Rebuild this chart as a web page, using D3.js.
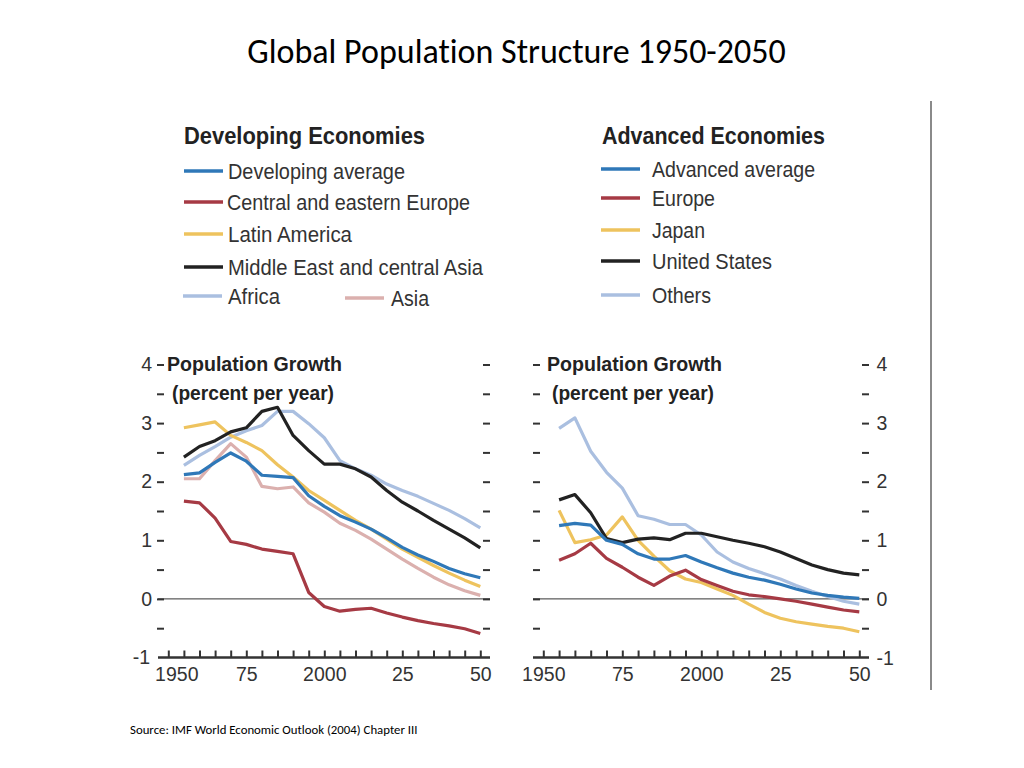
<!DOCTYPE html>
<html>
<head>
<meta charset="utf-8">
<script src="https://cdn.jsdelivr.net/npm/d3@7"></script>
<style>
  html, body { margin: 0; padding: 0; background: #fff; }
  svg { display: block; }
  .cond { font-family: "Liberation Sans", Arial, sans-serif; }
</style>
</head>
<body>
<svg id="chart" width="1024" height="768"></svg>
<script>
// ---------- DATA ----------
const years = [1955,1960,1965,1970,1975,1980,1985,1990,1995,2000,2005,2010,2015,2020,2025,2030,2035,2040,2045,2050];

const devAverage  = [2.12,2.15,2.33,2.49,2.35,2.11,2.09,2.07,1.76,1.58,1.42,1.31,1.19,1.04,0.88,0.75,0.64,0.52,0.43,0.36];
const devCEE      = [1.67,1.64,1.38,0.98,0.93,0.85,0.81,0.77,0.11,-0.13,-0.21,-0.18,-0.16,-0.24,-0.31,-0.37,-0.42,-0.46,-0.51,-0.59];
const devLatAm    = [2.92,2.97,3.02,2.79,2.67,2.53,2.29,2.08,1.85,1.68,1.51,1.34,1.19,1.02,0.85,0.71,0.57,0.44,0.32,0.21];
const devMECA     = [2.42,2.60,2.70,2.85,2.92,3.20,3.27,2.79,2.53,2.30,2.30,2.22,2.08,1.85,1.65,1.50,1.34,1.19,1.04,0.87];
const devAfrica   = [2.28,2.45,2.60,2.76,2.87,2.96,3.20,3.20,2.99,2.75,2.36,2.22,2.11,1.96,1.85,1.75,1.63,1.51,1.37,1.21];
const devAsia     = [2.05,2.05,2.36,2.65,2.42,1.92,1.88,1.91,1.64,1.48,1.29,1.17,1.02,0.85,0.68,0.52,0.37,0.24,0.14,0.06];

const advAverage  = [1.25,1.29,1.26,1.00,0.93,0.77,0.68,0.68,0.74,0.63,0.53,0.44,0.37,0.32,0.25,0.17,0.10,0.06,0.03,0.01];
const advEurope   = [0.66,0.77,0.95,0.69,0.54,0.37,0.23,0.39,0.49,0.33,0.23,0.13,0.07,0.04,0.00,-0.04,-0.09,-0.14,-0.19,-0.22];
const advJapan    = [1.51,0.96,1.01,1.09,1.40,1.00,0.73,0.48,0.34,0.28,0.17,0.06,-0.09,-0.23,-0.33,-0.39,-0.43,-0.47,-0.50,-0.56];
const advUS       = [1.69,1.78,1.47,1.03,0.96,1.02,1.04,1.01,1.12,1.12,1.06,1.00,0.95,0.89,0.80,0.69,0.58,0.50,0.44,0.41];
const advOthers   = [2.91,3.09,2.52,2.16,1.89,1.42,1.36,1.27,1.27,1.09,0.80,0.63,0.52,0.43,0.34,0.23,0.13,0.04,-0.04,-0.09];

const devNames = ["Developing average","Central and eastern Europe","Latin America","Middle East and central Asia","Africa","Asia"];
const advNames = ["Advanced average","Europe","Japan","United States","Others"];

const xTickYears = [1950,1955,1960,1965,1970,1975,1980,1985,1990,1995,2000,2005,2010,2015,2020,2025,2030,2035,2040,2045,2050];
const xTickLabels = {1950:"1950",1975:"75",2000:"2000",2025:"25",2050:"50"};
const yTicks = [-0.5,0,0.5,1,1.5,2,2.5,3,3.5,4];

// ---------- STYLE ----------
const C = { blue:"#2f78b8", red:"#a63a44", yellow:"#eec35e", black:"#222222", lblue:"#aabfe0", pink:"#dbb0ae" };
const devColors = [C.blue, C.red, C.yellow, C.black, C.lblue, C.pink];
const advColors = [C.blue, C.red, C.yellow, C.black, C.lblue];
const numSize = "19.5px";

const svg = d3.select("#chart");

function fit(sel, w){ // condense text to a target width (reference uses a condensed face)
  sel.attr("textLength", w).attr("lengthAdjust","spacingAndGlyphs");
  return sel;
}

// Title
svg.append("text").attr("x", 516.5).attr("y", 63).attr("text-anchor","middle")
  .style("font-family","Carlito, Calibri, Lato, sans-serif").style("font-size","34px")
  .style("font-variant-ligatures","none").attr("fill","#000")
  .text("Global Population Structure 1950-2050");

svg.append("text").attr("x", 130).attr("y", 734)
  .style("font-family","Carlito, Calibri, Lato, sans-serif").style("font-size","12.8px")
  .style("font-variant-ligatures","none").attr("fill","#000")
  .text("Source: IMF World Economic Outlook (2004) Chapter III");

// vertical rule
svg.append("line").attr("x1",931).attr("x2",931).attr("y1",101).attr("y2",690)
  .attr("stroke","#8a8a8a").attr("stroke-width",2);

const y = d3.scaleLinear().domain([-1,4]).range([657.5,364.5]);

function panel(opt){
  const x = d3.scaleLinear().domain([1950,2050]).range(opt.xr);
  const g = svg.append("g").attr("class","cond");

  // zero line
  g.append("line").attr("x1",opt.axL).attr("x2",opt.axR).attr("y1",y(0)).attr("y2",y(0))
    .attr("stroke","#333").attr("stroke-width",1);

  // y ticks both sides
  const la = d3.axisLeft(y).tickValues(yTicks).tickSize(7).tickPadding(5)
    .tickFormat(d => (opt.labelsLeft && Number.isInteger(d)) ? d3.format("d")(d) : "");
  const gl = g.append("g").attr("transform",`translate(${opt.ylx},0)`).call(la);
  const ra = d3.axisRight(y).tickValues(yTicks).tickSize(7).tickPadding(7.5)
    .tickFormat(d => (!opt.labelsLeft && Number.isInteger(d)) ? d3.format("d")(d) : "");
  const gr = g.append("g").attr("transform",`translate(${opt.yrx},0)`).call(ra);
  [gl,gr].forEach(a=>{
    a.select(".domain").remove();
    a.selectAll(".tick line").attr("stroke","#333").attr("stroke-width",2);
    a.selectAll(".tick text").attr("fill","#333").style("font-size",numSize);
  });
  if (opt.labelsLeft) {
    gl.append("text").attr("x",-14).attr("y",y(-1)).attr("dy","0.32em").attr("text-anchor","end")
      .attr("fill","#333").style("font-size",numSize).text("-1");
  } else {
    gr.append("text").attr("x",14.5).attr("y",y(-1)+1).attr("dy","0.32em").attr("text-anchor","start")
      .attr("fill","#333").style("font-size",numSize).text("-1");
  }

  // x axis
  const xa = d3.axisBottom(x).tickValues(xTickYears).tickSizeInner(-7).tickSizeOuter(0).tickPadding(10)
    .tickFormat(d => xTickLabels[d] || "");
  const gx = g.append("g").attr("transform",`translate(0,${y(-1)})`).call(xa);
  gx.select(".domain").remove();
  gx.selectAll(".tick line").attr("stroke","#333").attr("stroke-width",2);
  gx.selectAll(".tick text").attr("fill","#333").style("font-size",numSize)
    .attr("dx", d => d === 1950 ? opt.firstDx : 0);
  g.append("line").attr("x1",opt.axL).attr("x2",opt.axR).attr("y1",y(-1)).attr("y2",y(-1))
    .attr("stroke","#333").attr("stroke-width",2.5);

  // panel title
  fit(g.append("text").attr("x",opt.tx).attr("y",371).attr("fill","#222")
    .style("font-size","21px").style("font-weight","bold").text("Population Growth"), 175);
  fit(g.append("text").attr("x",opt.tx + 5).attr("y",400).attr("fill","#222")
    .style("font-size","21px").style("font-weight","bold").text("(percent per year)"), 162);

  // lines
  const line = d3.line().x((d,i)=>x(years[i])).y(d=>y(d));
  opt.series.forEach(s=>{
    g.append("path").datum(s.values).attr("d",line).attr("fill","none")
      .attr("stroke",s.color).attr("stroke-width",3.2).attr("stroke-linejoin","round");
  });
}

panel({
  xr:[168.3,480.3], axL:158, axR:490, ylx:164, yrx:483, labelsLeft:true, tx:167, firstDx:8,
  series:[
    {values:devAfrica,color:C.lblue},
    {values:devAsia,color:C.pink},
    {values:devLatAm,color:C.yellow},
    {values:devCEE,color:C.red},
    {values:devAverage,color:C.blue},
    {values:devMECA,color:C.black}
  ]
});
panel({
  xr:[543.3,859.3], axL:533, axR:869, ylx:540, yrx:862, labelsLeft:false, tx:547, firstDx:0,
  series:[
    {values:advOthers,color:C.lblue},
    {values:advJapan,color:C.yellow},
    {values:advEurope,color:C.red},
    {values:advUS,color:C.black},
    {values:advAverage,color:C.blue}
  ]
});

// ---------- LEGENDS ----------
function legend(x0, title, titleW, names, colors, rows){
  const g = svg.append("g").attr("class","cond");
  fit(g.append("text").attr("x",x0).attr("y",144).attr("fill","#222")
    .style("font-size","24px").style("font-weight","bold").text(title), titleW);
  names.forEach((n,i)=>{
    const r = rows[i];
    g.append("line").attr("x1",r.lx).attr("x2",r.lx+39).attr("y1",r.y).attr("y2",r.y)
      .attr("stroke",colors[i]).attr("stroke-width",3.5);
    fit(g.append("text").attr("x",r.tx).attr("y",r.y).attr("dy","0.36em").attr("fill","#333")
      .style("font-size","21.5px").text(n), r.w);
  });
}
legend(184, "Developing Economies", 241, devNames, devColors, [
  {lx:184,tx:228,y:171,w:177},{lx:184,tx:227,y:202,w:243},{lx:184,tx:228,y:234,w:124},
  {lx:184,tx:228,y:267,w:255},{lx:183,tx:228,y:296,w:52},{lx:345,tx:391,y:298,w:38}
]);
legend(602, "Advanced Economies", 223, advNames, advColors, [
  {lx:601,tx:652,y:169,w:163},{lx:601,tx:652,y:198,w:63},{lx:601,tx:652,y:230,w:53},
  {lx:601,tx:652,y:261,w:120},{lx:601,tx:652,y:295,w:59}
]);
</script>
</body>
</html>
